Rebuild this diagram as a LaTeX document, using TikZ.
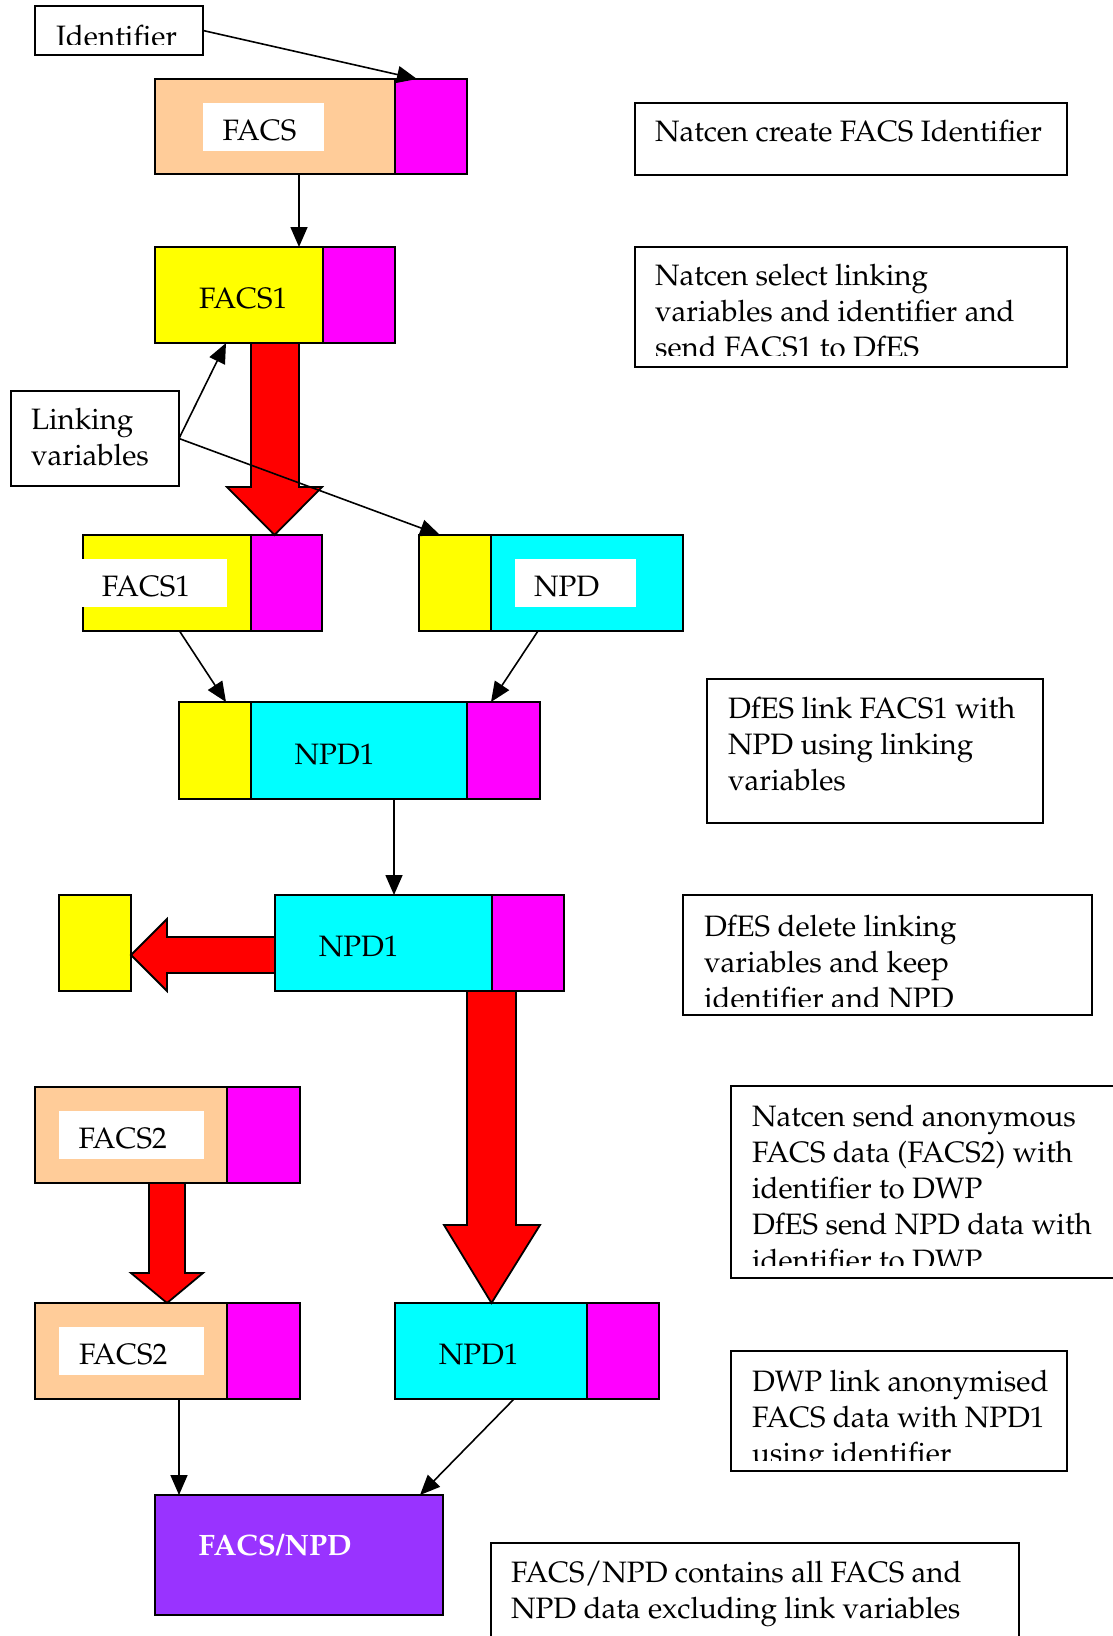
\documentclass[tikz,border=0pt]{standalone}
\usepackage[T1]{fontenc}
\renewcommand{\rmdefault}{ppl}
\usetikzlibrary{arrows.meta,calc}
\definecolor{peach}{HTML}{FFCC99}
\definecolor{mag}{HTML}{FF00FF}
\definecolor{cyn}{HTML}{00FFFF}
\definecolor{yel}{HTML}{FFFF00}
\definecolor{purp}{HTML}{9933FF}
\newcommand{\dfont}{\fontsize{29.5}{36}\selectfont}
\tikzset{
  seg/.style={draw=black, line width=2pt, inner sep=0pt, outer sep=0pt, anchor=north west},
  lbl/.style={fill=white, inner sep=0pt, outer sep=0pt, anchor=north west},
  txt/.style={anchor=base west, inner sep=0pt, outer sep=0pt, font=\dfont},
  tbox/.style={draw=black, line width=1.8pt, inner sep=0pt, outer sep=0pt, anchor=north west},
  conn/.style={line width=1.6pt, -{Triangle[length=20pt,width=17pt]}},
  blockarrow/.style={fill=red, draw=black, line width=1.8pt, line join=miter},
}
\begin{document}
\begin{tikzpicture}[x=1pt,y=-1pt]
\useasboundingbox (0,0) rectangle (1112,1636);
\fill[white] (0,0) rectangle (1112,1636);

% ---- text boxes ----
\node[tbox,minimum width=168pt,minimum height=49pt] (idbox) at (35,6) {};
\begin{scope}
  \clip (35,6) rectangle (203,44.3);
  \node[txt] (idT) at (56,46.5) {Identifier};
\end{scope}

\node[tbox,minimum width=432pt,minimum height=72pt] (nc1) at (635,103) {};
\node[txt] (nc1T) at (655,141) {Natcen create FACS Identifier};

\node[tbox,minimum width=432pt,minimum height=120pt] (nc2) at (635,247) {};
\begin{scope}
  \clip (635,247) rectangle (1067,355.5);
  \node[txt] (nc2T) at (655,285) {\parbox[t]{420pt}{\dfont Natcen select linking\\variables and identifier and\\send FACS1 to DfES}};
\end{scope}

\node[tbox,minimum width=168pt,minimum height=95pt] (link) at (11,391) {};
\node[txt] (linkT) at (31,429.5) {\parbox[t]{150pt}{\dfont Linking\\variables}};

\node[tbox,minimum width=336pt,minimum height=144pt] (df1) at (707,679) {};
\node[txt] (df1T) at (728,718) {\parbox[t]{320pt}{\dfont DfES link FACS1 with\\NPD using linking\\variables}};

\node[tbox,minimum width=409pt,minimum height=120pt] (df2) at (683,895) {};
\begin{scope}
  \clip (683,895) rectangle (1092,1006);
  \node[txt] (df2T) at (704,936.5) {\parbox[t]{400pt}{\dfont DfES delete linking\\variables and keep\\identifier and NPD}};
\end{scope}

\node[tbox,minimum width=390pt,minimum height=192pt] (nc3) at (731,1086) {};
\begin{scope}
  \clip (731,1086) rectangle (1112,1265);
  \node[txt] (nc3T) at (752,1126.5) {\parbox[t]{400pt}{\dfont Natcen send anonymous\\FACS data (FACS2) with\\identifier to DWP\\DfES send NPD data with\\identifier to DWP}};
\end{scope}

\node[tbox,minimum width=336pt,minimum height=120pt] (dwp) at (731,1351) {};
\begin{scope}
  \clip (731,1351) rectangle (1067,1460);
  \node[txt] (dwpT) at (752,1391) {\parbox[t]{320pt}{\dfont DWP link anonymised\\FACS data with NPD1\\using identifier}};
\end{scope}

\node[tbox,minimum width=528pt,minimum height=110pt] (cont) at (491,1543) {};
\node[txt] (contT) at (511,1582) {\parbox[t]{500pt}{\dfont FACS/NPD contains all FACS and\\NPD data excluding link variables}};

% ---- FACS ----
\node[seg,fill=peach,minimum width=240pt,minimum height=95pt] (facsP) at (155,79) {};
\node[seg,fill=mag,minimum width=72pt,minimum height=95pt] (facsM) at (395,79) {};
\node[lbl,minimum width=121pt,minimum height=48pt] (facsL) at (203,103) {};
\node[txt] (facsT) at (222.7,140) {FACS};

% ---- FACS1 (top) ----
\node[seg,fill=yel,minimum width=168pt,minimum height=96pt] (f1Y) at (155,247) {};
\node[seg,fill=mag,minimum width=72pt,minimum height=96pt] (f1M) at (323,247) {};
\node[txt] (f1T) at (199,308.3) {FACS1};

% ---- FACS1 (second) ----
\node[seg,fill=yel,minimum width=168pt,minimum height=96pt] (f1bY) at (83,535) {};
\node[seg,fill=mag,minimum width=71pt,minimum height=96pt] (f1bM) at (251,535) {};
\node[lbl,minimum width=145pt,minimum height=48pt] (f1bL) at (81.5,559) {};
\node[txt] (f1bT) at (101.8,596.7) {FACS1};

% ---- NPD ----
\node[seg,fill=yel,minimum width=72pt,minimum height=96pt] (npdY) at (419,535) {};
\node[seg,fill=cyn,minimum width=192pt,minimum height=96pt] (npdC) at (491,535) {};
\node[lbl,minimum width=121pt,minimum height=48pt] (npdL) at (515,559) {};
\node[txt] (npdT) at (534,596.7) {NPD};

% ---- NPD1 (middle) ----
\node[seg,fill=yel,minimum width=72pt,minimum height=97pt] (n1Y) at (179,702) {};
\node[seg,fill=cyn,minimum width=216pt,minimum height=97pt] (n1C) at (251,702) {};
\node[seg,fill=mag,minimum width=73pt,minimum height=97pt] (n1M) at (467,702) {};
\node[txt] (n1T) at (294.6,764.3) {NPD1};

% ---- NPD1 (lower) ----
\node[seg,fill=yel,minimum width=72pt,minimum height=96pt] (delY) at (59,895) {};
\node[seg,fill=cyn,minimum width=216.5pt,minimum height=96pt] (n2C) at (275,895) {};
\node[seg,fill=mag,minimum width=72.5pt,minimum height=96pt] (n2M) at (491.5,895) {};
\node[txt] (n2T) at (318.8,956.7) {NPD1};

% ---- FACS2 (upper) ----
\node[seg,fill=peach,minimum width=192pt,minimum height=96pt] (f2P) at (35,1087) {};
\node[seg,fill=mag,minimum width=72.5pt,minimum height=96pt] (f2M) at (227,1087) {};
\node[lbl,minimum width=145pt,minimum height=48pt] (f2L) at (59,1111) {};
\node[txt] (f2T) at (78.5,1148.3) {FACS2};

% ---- FACS2 (lower) ----
\node[seg,fill=peach,minimum width=192pt,minimum height=96pt] (f2bP) at (35,1303) {};
\node[seg,fill=mag,minimum width=72.5pt,minimum height=96pt] (f2bM) at (227,1303) {};
\node[lbl,minimum width=145pt,minimum height=48pt] (f2bL) at (59,1327) {};
\node[txt] (f2bT) at (79,1364.3) {FACS2};

% ---- NPD1 (bottom) ----
\node[seg,fill=cyn,minimum width=192pt,minimum height=96pt] (n3C) at (395,1303) {};
\node[seg,fill=mag,minimum width=72pt,minimum height=96pt] (n3M) at (587,1303) {};
\node[txt] (n3T) at (438.8,1364.3) {NPD1};

% ---- FACS/NPD ----
\node[seg,fill=purp,minimum width=288pt,minimum height=120pt] (fn) at (155,1495) {};
\node[txt,text=white,font=\dfont\bfseries] (fnT) at (198.7,1555) {FACS/NPD};

% ---- block arrows ----
\draw[blockarrow] (251,343) -- (251,487) -- (227,487) -- (274.5,535) -- (322,487) -- (299,487) -- (299,343) -- cycle;
\draw[blockarrow] (275,937) -- (167,937) -- (167,919) -- (131,955) -- (167,991) -- (167,973) -- (275,973) -- cycle;
\draw[blockarrow] (467,991) -- (467,1225) -- (444,1225) -- (491.5,1303) -- (540,1225) -- (516,1225) -- (516,991) -- cycle;
\draw[blockarrow] (149,1183) -- (149,1273) -- (131,1273) -- (167,1303) -- (203,1273) -- (185,1273) -- (185,1183) -- cycle;

% ---- connectors ----
\draw[conn] (idbox.east) -- ($(facsM.north west)+(22,0)$);
\draw[conn] ($(facsP.south west)+(144,0)$) -- ($(f1Y.north west)+(144,0)$);
\draw[conn] (link.east) -- ($(f1Y.south west)+(71,0)$);
\draw[conn] (link.east) -- ($(npdY.north west)+(21,0)$);
\draw[conn] ($(f1bY.south west)+(96.5,0)$) -- ($(n1Y.north west)+(47,0)$);
\draw[conn] ($(npdC.south west)+(47,0)$) -- ($(n1C.north east)+(24,0)$);
\draw[conn] ($(n1C.south west)+(143,0)$) -- ($(n2C.north west)+(119,0)$);
\draw[conn] ($(f2bP.south west)+(144,0)$) -- ($(fn.north west)+(24,0)$);
\draw[conn] ($(n3C.south west)+(119,0)$) -- ($(fn.north east)+(-23,0)$);
\end{tikzpicture}
\end{document}
